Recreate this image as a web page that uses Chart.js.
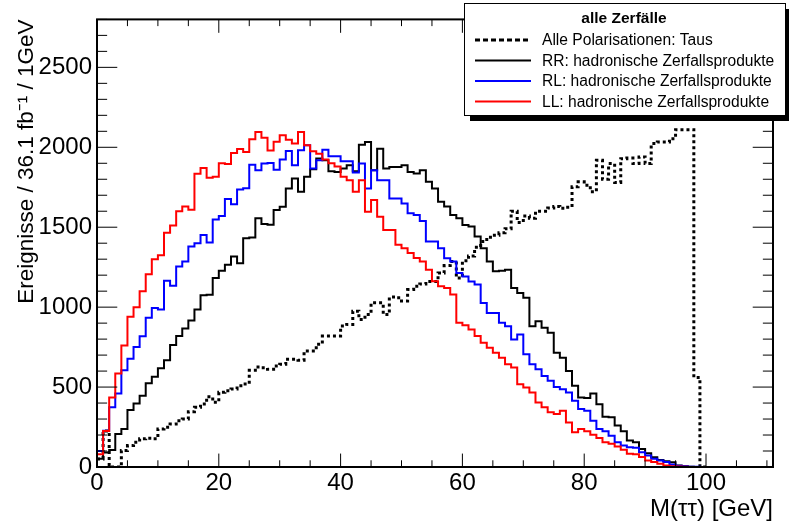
<!DOCTYPE html>
<html>
<head>
<meta charset="utf-8">
<title>M(tautau)</title>
<script src="https://cdn.jsdelivr.net/npm/chart.js@4.4.1/dist/chart.umd.min.js"></script>
<style>
  html, body { margin: 0; padding: 0; background: #fff; }
  canvas { display: block; }
</style>
</head>
<body>
<canvas id="massChart" width="789" height="527"></canvas>
<script>
// Histogram contents, 1 GeV bins starting at 0 GeV
const binWidth = 1;
const xRange = [0, 111];
const yRange = [0, 2800];

const xTickLabels = [0, 20, 40, 60, 80, 100];
const yTickLabels = [0, 500, 1000, 1500, 2000, 2500];

const tausAll = [
  50, 225, 0, 0, 103, 134, 155, 176, 180, 176,
  238, 248, 269, 290, 300, 346, 373, 394, 440, 405,
  467, 477, 488, 508, 519, 605, 626, 621, 611, 632,
  643, 674, 674, 668, 726, 726, 768, 819, 819, 819,
  882, 892, 975, 923, 954, 1027, 1027, 954, 1063, 1058,
  1038, 1110, 1130, 1145, 1161, 1161, 1213, 1260, 1286, 1182,
  1290, 1320, 1375, 1410, 1437, 1450, 1465, 1490, 1600, 1530,
  1570, 1556, 1600, 1600, 1620, 1630, 1618, 1625, 1753, 1784,
  1763, 1722, 1919, 1800, 1898, 1780, 1929, 1933, 1898, 1940,
  1898, 2023, 2033, 2033, 2054, 2110, 2110, 2110, 560, 0
];

const rrHadronic = [
  51, 90, 107, 207, 238, 356, 398, 446, 524, 564,
  618, 668, 763, 819, 867, 916, 985, 1074, 1078, 1182,
  1228, 1265, 1317, 1275, 1431, 1435, 1556, 1520, 1515, 1607,
  1628, 1742, 1805, 1722, 1815, 1863, 1930, 1919, 1850, 1846,
  1867, 1888, 1850, 2016, 2033, 1857, 1991, 1867, 1877, 1877,
  1888, 1846, 1836, 1857, 1784, 1742, 1659, 1630, 1576, 1556,
  1514, 1504, 1442, 1369, 1286, 1224, 1228, 1234, 1120, 1089,
  1058, 881, 912, 871, 840, 715, 684, 600, 508, 435,
  431, 460, 393, 315, 311, 259, 223, 165, 155, 113,
  86, 61, 44, 36, 30, 10, 5, 2, 0, 0
];

const rlHadronic = [
  100, 227, 373, 460, 605, 677, 750, 818, 933, 995,
  985, 1165, 1134, 1255, 1286, 1379, 1400, 1452, 1404, 1549,
  1570, 1676, 1643, 1736, 1743, 1890, 1857, 1898, 1902, 1860,
  1923, 1977, 1888, 1981, 2012, 1868, 1919, 1985, 1944, 1944,
  1913, 1913, 1842, 1898, 1742, 1857, 1794, 1794, 1680, 1680,
  1649, 1587, 1576, 1539, 1411, 1411, 1369, 1306, 1286, 1213,
  1192, 1161, 1141, 1026, 964, 964, 902, 881, 798, 829,
  705, 643, 611, 570, 539, 500, 487, 466, 415, 363,
  352, 290, 238, 223, 196, 155, 135, 124, 120, 93,
  72, 51, 41, 31, 16, 8, 4, 2, 1, 0
];

const llHadronic = [
  80, 225, 435, 585, 760, 940, 1000, 1100, 1205, 1300,
  1325, 1465, 1510, 1600, 1630, 1610, 1835, 1870, 1810, 1815,
  1900, 1895, 1965, 1990, 1970, 2050, 2095, 2060, 1980, 2035,
  2075, 2047, 2023, 2095, 2012, 1975, 1960, 1923, 1900, 1880,
  1815, 1794, 1722, 1794, 1597, 1670, 1566, 1483, 1483, 1390,
  1369, 1338, 1307, 1286, 1234, 1162, 1131, 1120, 1079, 902,
  887, 860, 819, 777, 746, 715, 684, 643, 622, 518,
  497, 466, 404, 373, 342, 332, 352, 279, 217, 238,
  223, 202, 182, 155, 145, 128, 108, 83, 79, 62,
  41, 31, 20, 10, 5, 3, 1, 0, 0, 0
];

const FONT = "'Liberation Sans', Arial, Helvetica, sans-serif";

// left bin edges with the content, plus the closing right edge
function histPoints(values) {
  const pts = values.map((v, i) => ({ x: i * binWidth, y: v }));
  pts.push({ x: values.length * binWidth, y: values[values.length - 1] });
  return pts;
}

function histDataset(label, values, color, order, dash, width) {
  return {
    label: label,
    data: histPoints(values),
    borderColor: color,
    borderWidth: width,
    borderDash: dash,
    stepped: 'before',
    pointRadius: 0,
    fill: false,
    order: order,
    borderJoinStyle: 'miter'
  };
}

// frame with inward ticks on all four sides
const frameTicks = {
  id: 'frameTicks',
  afterDatasetsDraw(chart) {
    const { ctx, chartArea: a, scales: { x, y } } = chart;
    const h = a.bottom - a.top, w = a.right - a.left;
    ctx.save();
    ctx.strokeStyle = '#000';
    ctx.lineWidth = 1;
    ctx.beginPath();
    for (let v = x.min; v <= x.max; v += 5) {
      const px = x.getPixelForValue(v);
      const len = (v % 20 === 0 ? 0.03 : 0.015) * h;
      ctx.moveTo(px, a.bottom); ctx.lineTo(px, a.bottom - len);
      ctx.moveTo(px, a.top); ctx.lineTo(px, a.top + len);
    }
    for (let v = y.min; v <= y.max; v += 100) {
      const py = y.getPixelForValue(v);
      const len = (v % 500 === 0 ? 0.03 : 0.015) * w;
      ctx.moveTo(a.left, py); ctx.lineTo(a.left + len, py);
      ctx.moveTo(a.right, py); ctx.lineTo(a.right - len, py);
    }
    ctx.stroke();
    ctx.lineWidth = 2;
    ctx.strokeRect(a.left, a.top, w, h);
    ctx.restore();
  }
};

// boxed legend with drop shadow in the upper right corner
const boxLegend = {
  id: 'boxLegend',
  afterDraw(chart) {
    const ctx = chart.ctx;
    const bx = 464, by = 3, bw = 321, bh = 112;
    ctx.save();
    ctx.fillStyle = '#000';
    ctx.fillRect(bx + 6, by + 6, bw, bh);
    ctx.fillStyle = '#fff';
    ctx.fillRect(bx, by, bw, bh);
    ctx.strokeStyle = '#000';
    ctx.lineWidth = 1;
    ctx.strokeRect(bx + 0.5, by + 0.5, bw, bh);

    ctx.fillStyle = '#000';
    ctx.textAlign = 'center';
    ctx.textBaseline = 'middle';
    ctx.font = 'bold 15.5px ' + FONT;
    ctx.fillText('alle Zerfälle', 624, 19);

    ctx.textAlign = 'left';
    ctx.font = '15.6px ' + FONT;
    const rows = [40, 60.5, 81, 101.5];
    chart.data.datasets.forEach((ds, i) => {
      const ry = rows[i];
      ctx.beginPath();
      ctx.strokeStyle = ds.borderColor;
      ctx.lineWidth = ds.borderWidth;
      ctx.setLineDash(ds.borderDash.length ? [5, 3] : []);
      ctx.moveTo(475, ry);
      ctx.lineTo(531, ry);
      ctx.stroke();
      ctx.setLineDash([]);
      ctx.fillStyle = '#000';
      ctx.fillText(ds.label, 542, ry + 1);
    });
    ctx.restore();
  }
};

new Chart(document.getElementById('massChart'), {
  type: 'line',
  data: {
    datasets: [
      histDataset('Alle Polarisationen: Taus', tausAll, '#000000', 4, [3, 3], 3),
      histDataset('RR: hadronische Zerfallsprodukte', rrHadronic, '#000000', 3, [], 2),
      histDataset('RL: hadronische Zerfallsprodukte', rlHadronic, '#0000ff', 2, [], 2),
      histDataset('LL: hadronische Zerfallsprodukte', llHadronic, '#ff0000', 1, [], 2)
    ]
  },
  options: {
    responsive: false,
    animation: false,
    devicePixelRatio: 1,
    layout: { padding: { top: 16, right: 16, left: 0, bottom: 0 } },
    plugins: { legend: { display: false }, tooltip: { enabled: false } },
    scales: {
      x: {
        type: 'linear',
        min: xRange[0],
        max: xRange[1],
        grid: { display: false, drawTicks: false },
        border: { display: false },
        afterBuildTicks: (scale) => { scale.ticks = xTickLabels.map(v => ({ value: v })); },
        afterFit: (scale) => { scale.height = 60; },
        ticks: {
          font: { family: FONT, size: 24 },
          color: '#000',
          padding: 2,
          maxRotation: 0,
          autoSkip: false,
          callback: (v) => String(v)
        },
        title: {
          display: true,
          text: 'M(ττ) [GeV]',
          align: 'end',
          color: '#000',
          font: { family: FONT, size: 24 },
          padding: { top: 0, bottom: 3 }
        }
      },
      y: {
        type: 'linear',
        min: yRange[0],
        max: yRange[1],
        grid: { display: false, drawTicks: false },
        border: { display: false },
        afterBuildTicks: (scale) => { scale.ticks = yTickLabels.map(v => ({ value: v })); },
        afterFit: (scale) => { scale.width = 97; },
        ticks: {
          font: { family: FONT, size: 24 },
          color: '#000',
          padding: 5,
          callback: (v) => String(v)
        },
        title: {
          display: true,
          text: 'Ereignisse / 36.1 fb⁻¹ / 1GeV',
          align: 'end',
          color: '#000',
          font: { family: FONT, size: 22.5 },
          padding: { top: 13, bottom: 0 }
        }
      }
    }
  },
  plugins: [frameTicks, boxLegend]
});
</script>
</body>
</html>
